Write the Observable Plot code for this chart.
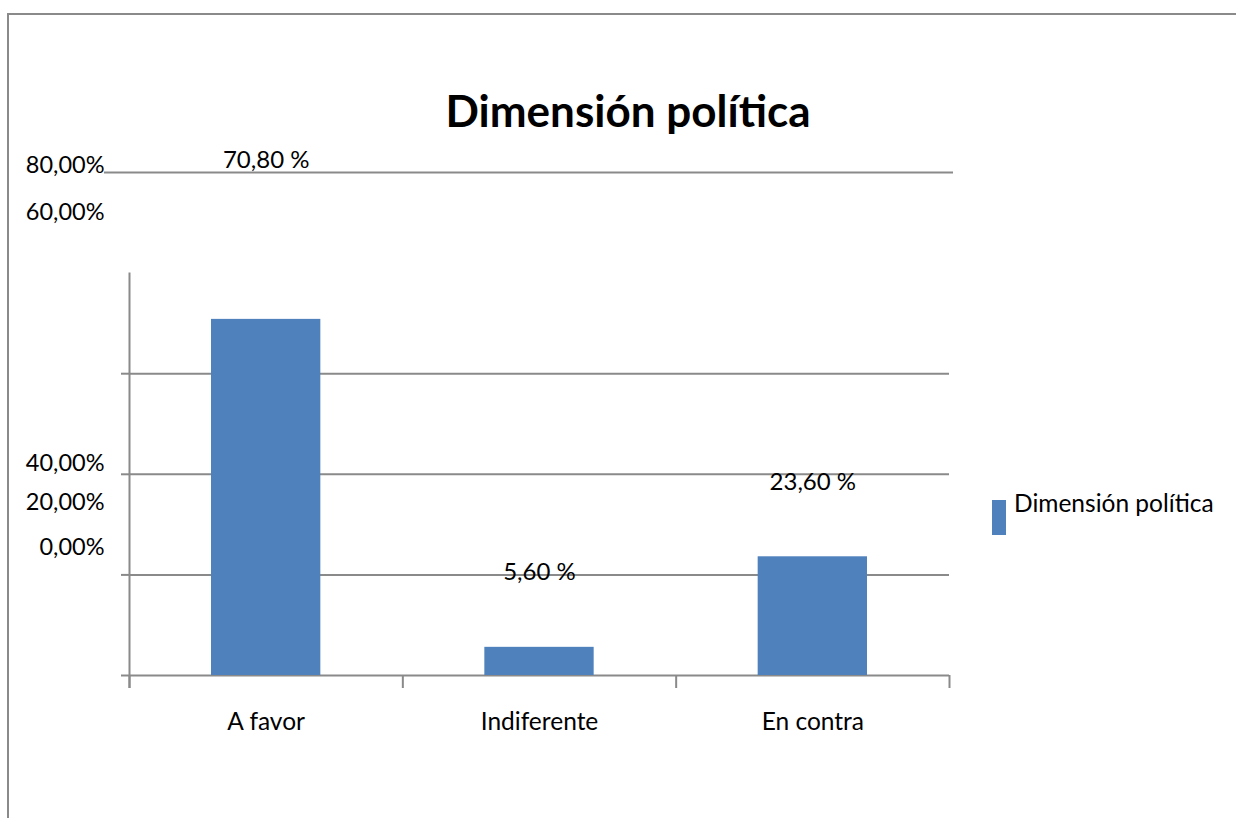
<!DOCTYPE html>
<html>
<head>
<meta charset="utf-8">
<script src="https://cdn.jsdelivr.net/npm/d3@7"></script>
<script src="https://cdn.jsdelivr.net/npm/@observablehq/plot@0.6"></script>
<style>
  html, body { margin: 0; padding: 0; background: #fff; }
  #wrap { position: relative; width: 1236px; height: 818px; overflow: hidden; font-family: Lato, "Open Sans", sans-serif; color: #000; }
  #wrap svg { position: absolute; left: 0; top: 0; }
  #frame { position: absolute; left: 7px; top: 13px; width: 1240px; height: 820px; border-left: 2px solid #8a8a8a; border-top: 2px solid #8a8a8a; box-sizing: border-box; }
  #title { position: absolute; left: 628px; top: 88px; transform: translateX(-50%); font-size: 44px; font-weight: 700; line-height: 1; white-space: nowrap; }
  #legend { position: absolute; left: 992px; top: 491px; display: flex; align-items: flex-start; font-size: 24.5px; line-height: 1; white-space: nowrap; }
  #legend .sw { width: 14px; height: 35px; background: #4F81BD; margin-top: 9px; margin-right: 8px; }
</style>
</head>
<body>
<div id="wrap">
  <div id="frame"></div>
  <div id="title">Dimensión política</div>
  <div id="legend"><div class="sw"></div><div>Dimensión política</div></div>
</div>
<script>
// ---- data ----
const categories = ["A favor", "Indiferente", "En contra"];
const values = [0.708, 0.056, 0.236];
const valueLabels = ["70,80 %", "5,60 %", "23,60 %"];
// where the reference draws each value label, expressed on the value axis
const valueLabelAt = [1.024, 0.205, 0.385];
const tickValues = [0, 0.2, 0.4, 0.6];
const tickLabels = ["80,00%", "60,00%", "40,00%", "20,00%", "0,00%"];
// where the reference draws each tick label, expressed on the value axis
const tickLabelAt = [1.014, 0.92, 0.4215, 0.344, 0.2545];
const axisTop = 0.8;
const topLine = 1.0;

const bars = categories.map((c, i) => ({ category: c, i, value: values[i], label: valueLabels[i], labelAt: valueLabelAt[i] }));
const ticks = tickLabels.map((t, i) => ({ label: t, at: tickLabelAt[i] }));
const boundaries = d3.range(categories.length + 1);

const gridColor = "#8a8a8a";

const chart = Plot.plot({
  width: 1236,
  height: 818,
  marginLeft: 129,
  marginRight: 287,
  marginTop: 172,
  marginBottom: 143,
  style: { fontFamily: "Lato, 'Open Sans', sans-serif", fontSize: "24px", color: "#000", background: "transparent", overflow: "visible" },
  x: { domain: [0, categories.length], axis: null },
  y: { domain: [0, 1], axis: null },
  marks: [
    // gridlines
    Plot.ruleY(tickValues, { x1: 0, x2: categories.length, stroke: gridColor, strokeWidth: 2 }),
    // top line (extends past the plot area)
    Plot.ruleY([topLine], { x1: 0, x2: categories.length, stroke: gridColor, strokeWidth: 2, insetLeft: -25, insetRight: -4 }),
    // y axis line
    Plot.ruleX([0], { y1: axisTop, y2: 0, stroke: gridColor, strokeWidth: 2, insetBottom: -13 }),
    // y tick marks
    Plot.ruleY(tickValues, { x1: 0, x2: 0, stroke: gridColor, strokeWidth: 2, insetLeft: -8 }),
    // x tick marks at category boundaries
    Plot.ruleX(boundaries, { y1: 0, y2: 0, stroke: gridColor, strokeWidth: 2, insetBottom: -13 }),
    // bars
    Plot.rectY(bars, { x1: d => d.i + 0.3, x2: d => d.i + 0.7, y: "value", fill: "#4F81BD" }),
    // value labels
    Plot.text(bars, { x: d => d.i + 0.5, y: "labelAt", text: "label", fontSize: 24 }),
    // category labels
    Plot.text(bars, { x: d => d.i + 0.5, y: 0, text: "category", dy: 47, fontSize: 24.5 }),
    // y tick labels
    Plot.text(ticks, { x: 0, y: "at", text: "label", textAnchor: "end", dx: -25, fontSize: 23.5 })
  ]
});
document.getElementById("wrap").insertBefore(chart, document.getElementById("frame"));
</script>
</body>
</html>
